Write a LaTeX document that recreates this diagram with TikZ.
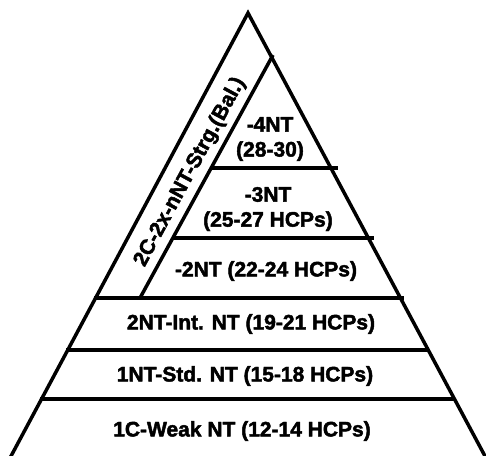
\documentclass[tikz,border=0pt]{standalone}
\usepackage{fontspec}
\setmainfont{Liberation Sans}
\newfontfamily\tierfont[FakeBold=2.2]{Liberation Sans Bold}

\tikzset{
  tierline/.style={line width=3.5pt},
  tierlabel/.style={font=\tierfont\fontsize{21}{25}\selectfont, align=center, inner sep=0pt}
}

\begin{document}
\begin{tikzpicture}[x=1pt, y=-1pt]
  \useasboundingbox (0, 0) rectangle (486, 455);
  \draw[tierline, line join=miter] (10, 458) -- (248, 13) -- (486, 458);
  \draw[tierline] (140, 298) -- (273, 55);
  \draw[tierline] (211, 168) -- (338, 168);
  \draw[tierline] (173, 238) -- (374, 238);
  \draw[tierline] (94, 298) -- (404, 298);
  \draw[tierline] (66, 350) -- (429, 350);
  \draw[tierline] (40, 399) -- (454, 399);
  \node[tierlabel] (weak) at (242, 431) {1C-Weak NT (12-14 HCPs)};
  \node[tierlabel] (std) at (245, 376) {1NT-Std. NT (15-18 HCPs)};
  \node[tierlabel] (int) at (251, 324) {2NT-Int. NT (19-21 HCPs)};
  \node[tierlabel] (twont) at (266, 271) {-2NT (22-24 HCPs)};
  \node[tierlabel] (threent) at (268, 209) {-3NT\\(25-27 HCPs)};
  \node[tierlabel] (fournt) at (270, 139) {-4NT\\(28-30)};
  \node[tierlabel, rotate=61.6] (strg) at (190, 172) {2C-2x-nNT-Strg.(Bal.)};
\end{tikzpicture}
\end{document}
